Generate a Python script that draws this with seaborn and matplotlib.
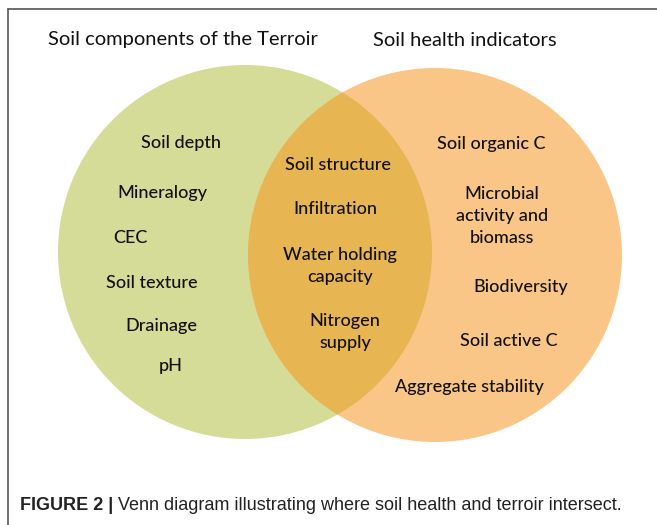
import seaborn as sns
import matplotlib.pyplot as plt
from matplotlib.patches import Circle

# set labels for the three regions of the venn
left_title = 'Soil components of the Terroir'
right_title = 'Soil health indicators'
left_items = ['Soil depth', 'Mineralogy', 'CEC', 'Soil texture', 'Drainage', 'pH']
shared_items = ['Soil structure', 'Infiltration', 'Water holding\ncapacity', 'Nitrogen\nsupply']
right_items = ['Soil organic C', 'Microbial\nactivity and\nbiomass', 'Biodiversity',
               'Soil active C', 'Aggregate stability']
caption_bold = 'FIGURE 2 |'
caption_text = ' Venn diagram illustrating where soil health and terroir intersect.'

# layout (pixel coords of the label centres)
left_pos = [(181, 143), (162, 193), (130, 238), (152, 283), (161, 326), (171, 366)]
shared_pos = [(338, 165), (335, 209), (340, 266), (345, 332)]
right_pos = [(491, 144), (502, 216), (521, 287), (509, 341), (469, 387)]

sns.set_theme(style='white')
plt.rcParams['font.family'] = ['Lato', 'DejaVu Sans']

fig = plt.figure(figsize=(6.57, 5.25), dpi=100)
ax = fig.add_axes([0, 0, 1, 1])
ax.set_xlim(0, 657)
ax.set_ylim(525, 0)
ax.axis('off')

green, orange, gold = '#d5dc98', '#f9c687', '#e7b552'
left_c = Circle((245, 252), 187, facecolor=green, edgecolor='none')
right_c = Circle((435, 255), 187, facecolor=orange, edgecolor='none')
ax.add_patch(left_c)
ax.add_patch(right_c)
lens = Circle((435, 255), 187, facecolor=gold, edgecolor='none')
ax.add_patch(lens)
lens.set_clip_path(Circle((245, 252), 187, transform=ax.transData))

# frame (left and top edges only show)
ax.plot([7.5, 7.5], [525, 8.5], color='#555555', lw=1.2)
ax.plot([7.5, 657], [8.5, 8.5], color='#555555', lw=1.2)

ax.text(183, 40, left_title, ha='center', va='center', fontsize=14.5, color='#111111')
ax.text(465, 40, right_title, ha='center', va='center', fontsize=14.5, color='#111111')

for items, pos in [(left_items, left_pos), (shared_items, shared_pos), (right_items, right_pos)]:
    for lab, (x, y) in zip(items, pos):
        ax.text(x, y, lab, ha='center', va='center', fontsize=13, color='#111111',
                fontweight='medium', linespacing=1.45)

t1 = ax.text(20, 505, caption_bold, ha='left', va='center', fontsize=13,
             fontweight='bold', family='Liberation Sans', color='#222222')
ax.annotate(caption_text, xy=(1, 0.5), xycoords=t1, ha='left', va='center',
            fontsize=13, family='Liberation Sans', color='#222222')

fig.savefig('out.png', dpi=100)
